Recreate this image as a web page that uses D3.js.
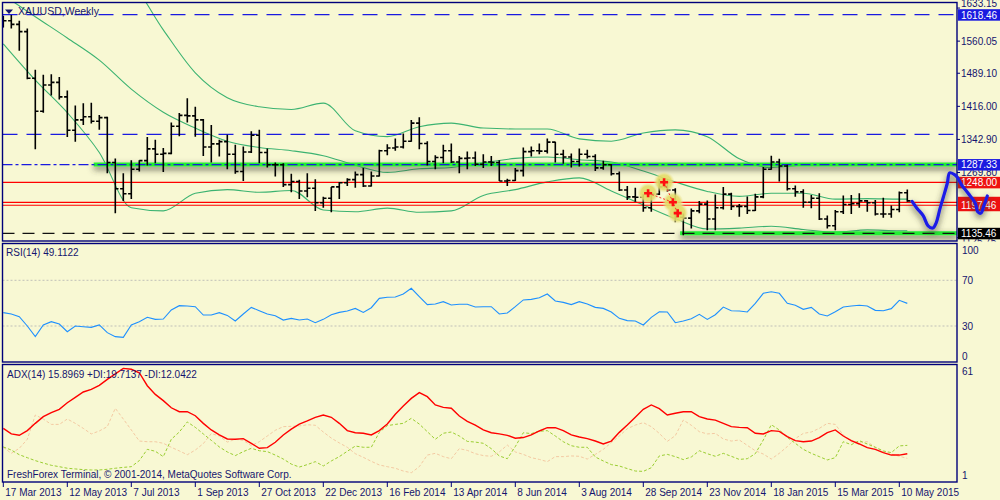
<!DOCTYPE html>
<html>
<head>
<meta charset="utf-8">
<script src="https://cdn.jsdelivr.net/npm/d3@7"></script>
<style>
body{margin:0;background:#f8f8d3;}
svg{display:block;font-family:"Liberation Sans",Arial,sans-serif;}
</style>
</head>
<body>
<div id="chart"></div>
<script>
// weekly XAUUSD bars, 17 Mar 2013 .. 17 May 2015
var dateLabels = ["17 Mar 2013","12 May 2013","7 Jul 2013","1 Sep 2013","27 Oct 2013","22 Dec 2013","16 Feb 2014","13 Apr 2014","8 Jun 2014","3 Aug 2014","28 Sep 2014","23 Nov 2014","18 Jan 2015","15 Mar 2015","10 May 2015"];

var open = [1592,1605,1597,1581,1478,1405,1463,1469,1437,1363,
  1386,1393,1383,1391,1292,1234,1223,1277,1296,1322,
  1310,1312,1372,1396,1395,1386,1326,1333,1338,1310,
  1272,1315,1352,1314,1287,1287,1243,1250,1229,1235,
  1203,1213,1238,1247,1254,1265,1240,1262,1318,1324,
  1326,1339,1379,1334,1294,1303,1318,1293,1301,1302,
  1288,1293,1292,1251,1252,1274,1316,1318,1317,1337,
  1310,1304,1294,1310,1305,1280,1287,1267,1231,1216,
  1215,1192,1222,1238,1231,1171,1169,1185,1200,1167,
  1192,1222,1195,1195,1186,1216,1277,1293,1284,1234,
  1227,1204,1213,1167,1152,1183,1199,1201,1207,1203,
  1178,1178,1188,1225];
var high = [1616,1618,1605,1588,1497,1486,1487,1481,1451,1418,
  1423,1424,1397,1393,1301,1268,1297,1297,1348,1342,
  1324,1380,1401,1434,1415,1388,1375,1342,1353,1331,
  1327,1361,1364,1323,1292,1290,1267,1254,1268,1255,
  1216,1238,1249,1257,1272,1280,1272,1320,1332,1345,
  1356,1386,1392,1339,1308,1331,1334,1306,1316,1316,
  1310,1306,1297,1256,1280,1325,1327,1334,1345,1338,
  1320,1312,1323,1320,1310,1296,1288,1272,1240,1236,
  1222,1225,1256,1255,1235,1179,1190,1207,1208,1221,
  1238,1225,1200,1217,1223,1282,1307,1300,1287,1241,
  1233,1220,1224,1175,1187,1219,1220,1224,1209,1209,
  1214,1197,1228,1232];
var low = [1590,1588,1539,1476,1321,1402,1440,1431,1348,1338,
  1375,1378,1364,1268,1180,1207,1211,1272,1285,1290,
  1271,1310,1350,1380,1349,1306,1292,1305,1277,1267,
  1251,1313,1290,1281,1261,1238,1226,1211,1215,1185,
  1192,1182,1211,1240,1236,1238,1239,1261,1308,1318,
  1323,1338,1321,1285,1277,1290,1291,1268,1277,1284,
  1280,1284,1251,1240,1251,1261,1305,1310,1312,1292,
  1289,1281,1283,1301,1273,1276,1263,1229,1209,1205,
  1183,1183,1220,1227,1160,1131,1146,1180,1142,1142,
  1188,1187,1172,1178,1185,1213,1276,1250,1230,1216,
  1192,1191,1165,1146,1142,1178,1178,1192,1183,1175,
  1170,1170,1182,1205];
var close = [1605,1597,1581,1478,1405,1463,1469,1437,1363,1386,
  1393,1383,1391,1292,1234,1223,1277,1296,1322,1310,
  1312,1372,1396,1395,1386,1326,1333,1338,1310,1272,
  1315,1352,1314,1287,1287,1243,1250,1229,1235,1203,
  1213,1238,1247,1254,1265,1240,1262,1318,1324,1326,
  1339,1379,1334,1294,1303,1318,1293,1301,1302,1288,
  1293,1292,1251,1252,1274,1316,1318,1317,1337,1310,
  1304,1294,1310,1305,1280,1287,1267,1231,1216,1215,
  1192,1222,1238,1231,1171,1169,1185,1200,1167,1192,
  1222,1195,1195,1186,1216,1277,1293,1284,1234,1227,
  1204,1213,1167,1152,1183,1199,1201,1207,1203,1178,
  1178,1188,1225,1207];

// bollinger bands read every 4th bar
var bandBars = [0,4,8,12,16,20,24,28,32,36,40,44,48,52,56,60,64,68,72,76,80,84,88,92,96,100,104,108,112,113];
var bandUpper = [1760,1750,1740,1725,1690,1585,1490,1435,1415,1409,1423,1362,1349,1371,1379,1368,1366,1366,1344,1339,1357,1364,1349,1300,1281,1286,1286,1289,1289,1289];
var bandMid = [1662,1614,1567,1518,1454,1403,1368,1339,1325,1318,1307,1286,1270,1278,1281,1291,1301,1304,1298,1293,1273,1249,1228,1217,1224,1224,1211,1212,1211,1211];
var bandLower = [1554,1474,1402,1314,1192,1185,1224,1232,1226,1230,1187,1183,1191,1182,1185,1219,1232,1249,1258,1229,1198,1168,1145,1147,1151,1144,1138,1143,1141,1141];

var rsi = [41.7,40.5,38.2,30,20.7,30.9,33.8,31.7,25,30,
  29.4,28.8,30.9,24.2,20.7,20.1,30.9,33.8,37.6,35.8,
  36.1,44,47.8,47.5,46.9,39.6,39.6,41.7,39.3,34.4,
  40.5,46.3,43.4,40.5,39,35.2,36.7,35.2,36.1,32.9,
  35.8,39.9,41.9,43.1,45.4,41.9,46,54.2,55.1,55.4,
  58,63,55.7,48.7,49.3,51.3,48.4,49,49,46.6,
  46.9,46.9,40.5,41.4,46.9,52.8,53.3,54.8,58,51.9,
  50.7,48.7,51.3,49.3,46.3,45.4,42.3,36.7,34.7,34.4,
  30.9,37.6,42.5,42.3,32.9,34.4,36.4,40.2,35.8,39.9,
  46.6,43.4,43.1,42.3,49.8,58.6,60,58.6,49.8,48.1,
  44.6,46.3,40.5,38.8,42.5,46.6,47.5,48.1,47.5,43.7,
  43.4,45.2,52.5,49.8];

var adx = [28.3,25.1,24.3,27,31.2,35.1,37.4,39.3,43.1,46.2,
  49.3,50.8,53.1,56.6,59.7,62.9,62.4,60.4,52.9,47.9,
  44.3,40.2,37.9,37.9,35.6,31.2,27.4,24.5,22.2,22,
  22.4,19.7,16.8,17.2,20.3,24.5,27.9,30.8,32.6,34.7,
  36,34.7,31.2,27,25.8,25.5,24.5,27,30.8,36.4,
  41.2,45.6,48.9,46.6,41.8,40.4,39.9,35.4,32.4,30.2,
  27.4,25.8,25.1,24.3,22.6,23,24.5,26.8,28.7,28.7,
  27,24.5,23.3,22.4,21,19.3,21,26,30.2,34.7,
  39.3,41.8,39.7,36,37,37.9,37.9,35.1,33.7,33.1,
  31.2,29.3,28.9,28.7,25.5,25.1,27,26.6,23.5,21.2,
  20.6,21,23,25.8,27.4,23.9,21.2,19.3,17.2,16.2,
  14.3,12.9,12.9,13.7];
var plusDI = [17.6,15.8,13.1,11.4,9.7,8.3,7,6.2,5.3,4.9,
  4.5,4.3,4.3,4.7,5.3,5.8,6.2,9.7,16.2,15.1,
  12,22,26.2,32,28.9,25.1,21.4,17.6,14.7,12.6,
  14.9,16.8,15.4,14.9,12.9,10.6,7.7,6,7.4,9.1,
  6.6,9.5,12,15.1,18.1,17.4,17.4,26,29.9,30.6,
  31.2,34.1,30.8,26.4,22,25.5,26.2,23.9,20.8,20.4,
  19.7,16.6,12.4,10.8,17.8,25.8,25.3,26.6,27,23.9,
  20.6,18.3,17.4,17.4,11.8,9.5,7.4,6.6,5.1,3.7,
  3.5,5.6,12.4,13.3,12,10.3,11.8,15.4,13.7,12.2,
  13.9,12.2,10.4,10.8,13.7,21.6,30.4,27.4,23.1,19.7,
  16.2,13.9,12,10.1,11.4,20.6,18.9,21.2,19.3,17.4,
  15.3,14.3,18.2,18.5];
var minusDI = [17.4,13.9,16.8,22,36,33.7,30.6,30.6,33.7,31.2,
  28.3,25.1,26.8,29.3,39.9,33.7,27.4,21,20.6,20.6,
  19.7,17.4,15.3,13.1,15.8,19.5,25.3,23.9,20.4,22,
  21.4,18.3,20.6,23.9,27.2,29.3,29.5,29.7,30.4,30.1,
  26.2,22.7,19.9,17.4,13.7,11.6,9.3,7.2,6.2,5.3,
  3.7,2.7,6.2,12.9,13.9,12,10.8,16.6,15.6,13.7,
  12.6,12.2,14.7,18.7,14.7,13.3,11.4,10.4,9.1,12,
  12,12.4,12.2,10.6,13.3,16.2,20.1,23.9,28.1,30.2,
  31.6,29.3,25.4,20.8,24.1,33.1,30.1,26.4,25.1,25.4,
  22.2,21,21.6,18.5,15.4,13.5,10.6,13.9,17.8,22.4,
  25.4,26.2,28.3,31.2,30.6,24.5,20.6,20.3,20.6,17.4,
  14.9,13.5,12.2,11];

// price axis ticks (the one under the red boxes is hidden there) and drawn levels
var priceTicks = ["1633.15","1560.05","1489.10","1416.00","1342.90","1269.80","1125.75"];
var blueDashLevels = [1618.46, 1354.2];
var redLevels = [1248.00, 1204.0, 1197.46];
var resistLevel = 1287.33, resistFrom = 11.3;
var supportLevel = 1135.46, supportFrom = 84.6;
var levelBoxes = [["1618.46","#1a1ae0"],["1287.33","#1a1ae0"],["1248.00","#ee1111"],["1204.00","#ee1111"],["1197.46","#ee1111"],["1135.46","#000000"]];

// trade markers and hand drawn forecast
var markBars = [82.6, 80.6, 83.7, 84.3];
var markPrices = [1248.4, 1224, 1204, 1180];
var fcBars = [113.6,114.2,115,115.6,116.2,116.6,117.1,117.5,118,118.3,119,119.3,119.8,120.6,121.5,121.8,122.2,122.6,123];
var fcPrices = [1206,1191,1174,1152,1147,1158,1191,1215,1246,1269,1264,1258,1242,1224,1202,1183,1180,1198,1218];

var W = 1000, H = 500;
var L = 2.5, R = 957;
var navy = "#14146e";

var svg = d3.select("#chart").append("svg")
  .attr("width", W).attr("height", H);
svg.append("rect").attr("width", W).attr("height", H).attr("fill", "#f8f8d3");

var defs = svg.append("defs");
defs.append("clipPath").attr("id", "clipMain")
  .append("rect").attr("x", L).attr("y", 2.5).attr("width", R - L).attr("height", 238.5);
defs.append("clipPath").attr("id", "clipRsi")
  .append("rect").attr("x", L).attr("y", 243.5).attr("width", R - L).attr("height", 118.5);
defs.append("clipPath").attr("id", "clipAdx")
  .append("rect").attr("x", L).attr("y", 364.5).attr("width", R - L).attr("height", 117.5);
defs.append("clipPath").attr("id", "clipAxis")
  .append("rect").attr("x", R).attr("y", 0).attr("width", W - R).attr("height", 241.5);

var sh = defs.append("filter").attr("id", "shadow")
  .attr("filterUnits", "userSpaceOnUse").attr("x", 0).attr("y", 0).attr("width", W).attr("height", H);
sh.append("feGaussianBlur").attr("in", "SourceAlpha").attr("stdDeviation", 3).attr("result", "b");
sh.append("feOffset").attr("in", "b").attr("dy", 3).attr("result", "o");
sh.append("feFlood").attr("flood-color", "#3e3e30").attr("flood-opacity", 0.85);
sh.append("feComposite").attr("in2", "o").attr("operator", "in").attr("result", "s");
var mg = sh.append("feMerge");
mg.append("feMergeNode").attr("in", "s");
mg.append("feMergeNode").attr("in", "SourceGraphic");

var glow = defs.append("radialGradient").attr("id", "glow");
glow.append("stop").attr("offset", "0%").attr("stop-color", "#e2d95c").attr("stop-opacity", 0.95);
glow.append("stop").attr("offset", "70%").attr("stop-color", "#e4dc6c").attr("stop-opacity", 0.9);
glow.append("stop").attr("offset", "100%").attr("stop-color", "#ece6a0").attr("stop-opacity", 0.1);

// scales
var x = d3.scaleLinear().domain([0, 112]).range([3.3, 899.3]);
var y = d3.scaleLinear().domain([1135.46, 1618.46]).range([233.3, 14.7]);
var yR = d3.scaleLinear().domain([30, 70]).range([326, 280.3]);
var yA = d3.scaleLinear().domain([1, 61]).range([475.7, 371.7]);

// ---------- main panel ----------
var main = svg.append("g").attr("clip-path", "url(#clipMain)");

var bandLine = function(vals) {
  return d3.line()
    .x(function(d, i){ return x(bandBars[i]); })
    .y(function(d){ return y(d); })
    .curve(d3.curveMonotoneX)(vals);
};
[bandUpper, bandMid, bandLower].forEach(function(b) {
  main.append("path").attr("d", bandLine(b))
    .attr("fill", "none").attr("stroke", "#3cb371").attr("stroke-width", 1.1);
});

blueDashLevels.forEach(function(v) {
  main.append("line").attr("x1", L).attr("x2", R).attr("y1", y(v)).attr("y2", y(v))
    .attr("stroke", "#1a1ae0").attr("stroke-width", 1.3).attr("stroke-dasharray", "15,9");
});
redLevels.forEach(function(v) {
  main.append("line").attr("x1", L).attr("x2", R).attr("y1", y(v)).attr("y2", y(v))
    .attr("stroke", "#ff0000").attr("stroke-width", 1.2);
});

// highlighted levels
main.append("line").attr("x1", x(resistFrom)).attr("x2", R)
  .attr("y1", y(resistLevel)).attr("y2", y(resistLevel))
  .attr("stroke", "#22ee33").attr("stroke-width", 4).attr("filter", "url(#shadow)");
main.append("line").attr("x1", x(supportFrom)).attr("x2", R)
  .attr("y1", y(supportLevel)).attr("y2", y(supportLevel))
  .attr("stroke", "#22ee33").attr("stroke-width", 4).attr("filter", "url(#shadow)");
main.append("line").attr("x1", L).attr("x2", R)
  .attr("y1", y(resistLevel)).attr("y2", y(resistLevel))
  .attr("stroke", "#1a1ae0").attr("stroke-width", 1.3).attr("stroke-dasharray", "10,3,3,3");
main.append("line").attr("x1", L).attr("x2", R).attr("y1", y(supportLevel)).attr("y2", y(supportLevel))
  .attr("stroke", "#111").attr("stroke-width", 1.3).attr("stroke-dasharray", "12,8");

// OHLC bars
var bars = main.append("g").attr("stroke", "#000").attr("stroke-width", 1.6);
bars.selectAll("line.hl").data(open).enter().append("line")
  .attr("x1", function(d, i){ return x(i); }).attr("x2", function(d, i){ return x(i); })
  .attr("y1", function(d, i){ return y(high[i]); }).attr("y2", function(d, i){ return y(low[i]); });
bars.selectAll("line.o").data(open).enter().append("line")
  .attr("x1", function(d, i){ return x(i) - 3.2; }).attr("x2", function(d, i){ return x(i); })
  .attr("y1", function(d){ return y(d); }).attr("y2", function(d){ return y(d); });
bars.selectAll("line.c").data(close).enter().append("line")
  .attr("x1", function(d, i){ return x(i); }).attr("x2", function(d, i){ return x(i) + 3.2; })
  .attr("y1", function(d){ return y(d); }).attr("y2", function(d){ return y(d); });

// trade markers
markBars.forEach(function(b, i) {
  main.append("circle").attr("cx", x(b)).attr("cy", y(markPrices[i])).attr("r", 10.5).attr("fill", "url(#glow)");
});
main.append("line").attr("x1", x(markBars[1])).attr("y1", y(markPrices[1]))
  .attr("x2", x(markBars[2])).attr("y2", y(markPrices[2]))
  .attr("stroke", "#ff3030").attr("stroke-dasharray", "2,2");
main.append("line").attr("x1", x(markBars[0])).attr("y1", y(markPrices[0]))
  .attr("x2", x(markBars[3])).attr("y2", y(markPrices[3]))
  .attr("stroke", "#ff3030").attr("stroke-dasharray", "2,2");
markBars.forEach(function(b, i) {
  var cx = x(b), cy = y(markPrices[i]);
  main.append("path")
    .attr("d", "M" + (cx - 4) + "," + cy + "h8M" + cx + "," + (cy - 4) + "v8")
    .attr("stroke", "#ff1010").attr("stroke-width", 2.6);
});

// ---------- RSI panel ----------
var rp = svg.append("g").attr("clip-path", "url(#clipRsi)");
[70, 30].forEach(function(v) {
  rp.append("line").attr("x1", L).attr("x2", R).attr("y1", yR(v)).attr("y2", yR(v))
    .attr("stroke", "#c0c0b8").attr("stroke-dasharray", "2,2");
});
rp.append("path")
  .attr("d", d3.line().x(function(d, i){ return x(i); }).y(function(d){ return yR(d); })(rsi))
  .attr("fill", "none").attr("stroke", "#1e90ff").attr("stroke-width", 1.1);

// ---------- ADX panel ----------
var ap = svg.append("g").attr("clip-path", "url(#clipAdx)");
var aLine = d3.line().x(function(d, i){ return x(i); }).y(function(d){ return yA(d); });
ap.append("path").attr("d", aLine(minusDI))
  .attr("fill", "none").attr("stroke", "#f3c9a2").attr("stroke-width", 1).attr("stroke-dasharray", "3,2");
ap.append("path").attr("d", aLine(plusDI))
  .attr("fill", "none").attr("stroke", "#9acd32").attr("stroke-width", 1).attr("stroke-dasharray", "3,2");
ap.append("path").attr("d", aLine(adx))
  .attr("fill", "none").attr("stroke", "#ff0000").attr("stroke-width", 1.4);

// ---------- frames ----------
[[2.5, 241], [243.5, 362], [364.5, 482]].forEach(function(p) {
  svg.append("rect").attr("x", L).attr("y", p[0]).attr("width", R - L).attr("height", p[1] - p[0])
    .attr("fill", "none").attr("stroke", "#00007a").attr("stroke-width", 1.4);
});

// right axis of main panel
var axisG = svg.append("g").attr("font-size", "10px").attr("fill", navy).attr("clip-path", "url(#clipAxis)");
priceTicks.forEach(function(t) {
  var yy = y(+t);
  if (+t > 1630) yy = 3.5;        // top label sits above the 1618 box
  if (+t < 1130) yy = yy + 3.5;   // bottom label peeks out under the 1135 box
  axisG.append("line").attr("x1", R).attr("x2", R + 3).attr("y1", y(+t)).attr("y2", y(+t)).attr("stroke", "#00007a");
  axisG.append("text").attr("x", R + 4).attr("y", yy).attr("dy", "0.35em").text(t);
});
levelBoxes.forEach(function(b) {
  var yy = y(+b[0]);
  axisG.append("rect").attr("x", R + 1).attr("y", yy - 5.5).attr("width", W - R).attr("height", 11.5).attr("fill", b[1]);
  // the 1204 box is covered by the 1197.46 one, so only its edge shows
  if (b[0] !== "1204.00")
    axisG.append("text").attr("x", R + 4).attr("y", yy + 0.3).attr("dy", "0.35em").attr("fill", "#fff").text(b[0]);
});

// RSI / ADX axis labels
var sideG = svg.append("g").attr("font-size", "10px").attr("fill", navy);
[100, 70, 30, 0].forEach(function(v) {
  var yy = Math.max(250, Math.min(356, yR(v)));
  sideG.append("text").attr("x", R + 5).attr("y", yy).attr("dy", "0.35em").text(v);
});
[61, 1].forEach(function(v) {
  sideG.append("text").attr("x", R + 5).attr("y", yA(v)).attr("dy", "0.35em").text(v);
});

// time axis
dateLabels.forEach(function(t, i) {
  var xx = x(i * 8);
  svg.append("line").attr("x1", xx).attr("x2", xx).attr("y1", 482).attr("y2", 487).attr("stroke", "#00007a");
  svg.append("text").attr("x", xx + 2).attr("y", 496).attr("font-size", "10px").attr("fill", navy).text(t);
});

// titles
svg.append("path").attr("d", "M5,9.5h8l-4,4.5z").attr("fill", navy);
svg.append("text").attr("x", 18).attr("y", 15).attr("font-size", "10.5px").attr("fill", navy).text("XAUUSD,Weekly");
svg.append("text").attr("x", 6).attr("y", 256).attr("font-size", "10px").attr("fill", navy).text("RSI(14) 49.1122");
svg.append("text").attr("x", 7).attr("y", 378).attr("font-size", "10px").attr("fill", navy).text("ADX(14) 15.8969 +DI:19.7137 -DI:12.0422");
svg.append("text").attr("x", 7).attr("y", 478).attr("font-size", "10px").attr("fill", navy).text("FreshForex Terminal, \u00a9 2001-2014, MetaQuotes Software Corp.");

// hand drawn forecast
var fc = fcBars.map(function(b, i){ return [x(b), y(fcPrices[i])]; });
svg.append("path")
  .attr("d", d3.line().curve(d3.curveCatmullRom)(fc))
  .attr("fill", "none").attr("stroke", "#1c1ce6").attr("stroke-width", 3.2)
  .attr("stroke-linecap", "round").attr("stroke-linejoin", "round")
  .attr("filter", "url(#shadow)");
</script>
</body>
</html>
